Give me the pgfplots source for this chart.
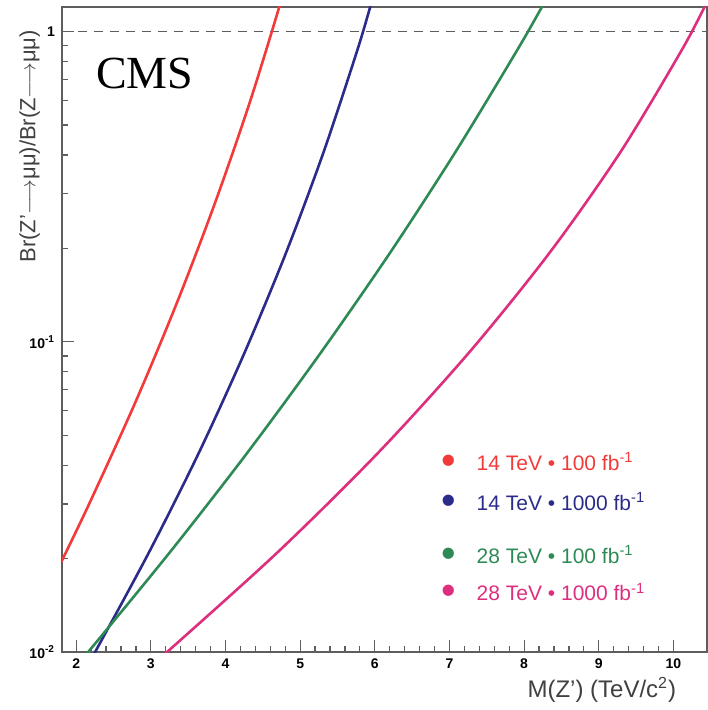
\documentclass[border=0pt]{standalone}
\usepackage{fontspec}
\setmainfont{Liberation Sans}
\newfontfamily\timesfont{Liberation Serif}
\usepackage{pgfplots}
\pgfplotsset{compat=1.18}
\definecolor{cred}{HTML}{F23A3A}
\definecolor{cblue}{HTML}{2B2B8A}
\definecolor{cgreen}{HTML}{2E8A55}
\definecolor{cmag}{HTML}{DE2F7E}
\definecolor{axgray}{HTML}{5E5E5E}
\tikzset{legtext/.style={anchor=west, font=\fontsize{10.5}{12}\selectfont},
         legdot/.style={font=\huge}}

\begin{document}
\begin{tikzpicture}
\begin{axis}[
  scale only axis,
  width=322.5pt, height=322.5pt,
  ymode=log,
  xmin=1.81, xmax=10.45,
  ymin=0.01, ymax=1.2,
  xtick={2,...,10},
  minor x tick num=4,
  xtick pos=bottom, ytick pos=left,
  ytick={0.01,0.1,1},
  yticklabels={\textbf{10}\textsuperscript{\textbf{-2}},\textbf{10}\textsuperscript{\textbf{-1}},\textbf{1}},
  xticklabel={\textbf{\pgfmathprintnumber{\tick}}},
  /pgf/number format/assume math mode=true,
  tick label style={font=\fontsize{7}{8}\selectfont},
  axis line style={axgray, line width=0.8pt},
  tick style={axgray, line width=0.6pt},
  major tick length=6pt,
  minor tick length=3pt,
  xlabel={M(Z') (TeV/c\textsuperscript{2})},
  xlabel style={font=\fontsize{12}{14}\selectfont, text=black!75, at={(axis description cs:0.963,-0.029)}, anchor=north east},
  ylabel={Br(Z'$\longrightarrow$μμ)/Br(Z$\longrightarrow$μμ)},
  ylabel style={font=\fontsize{11}{13}\selectfont, text=black!75, at={(axis description cs:-0.05,0.784)}, anchor=center},
  every axis plot/.append style={line width=1.3pt, smooth, no markers},
]
\addplot[axgray, line width=0.8pt, dash pattern=on 4.5pt off 3.5pt, sharp plot] coordinates {(1.81,1) (10.45,1)};

% 14 TeV, 100 fb^-1
\addplot[cred] coordinates {
(1.75,0.0185) (1.813,0.0198) (2.187,0.0305) (2.795,0.064) (3.355,0.1346)
(3.866,0.283) (4.328,0.594) (4.722,1.204) (4.932,1.81)};

% 14 TeV, 1000 fb^-1
\addplot[cblue] coordinates {
(2.103,0.00862) (2.254,0.01) (2.979,0.02104) (3.649,0.04416) (4.261,0.0929)
(4.816,0.195) (5.316,0.410) (5.760,0.862) (5.940,1.204) (6.073,1.561)};

% 28 TeV, 100 fb^-1
\addplot[cgreen] coordinates {
(1.934,0.00862) (2.161,0.01) (3.26,0.02104) (4.301,0.04416) (5.286,0.0929)
(6.213,0.195) (7.083,0.410) (7.896,0.862) (8.242,1.204) (8.505,1.561)};

% 28 TeV, 1000 fb^-1
\addplot[cmag] coordinates {
(2.905,0.00862) (3.218,0.01) (4.705,0.02104) (6.056,0.04416) (7.272,0.0929)
(8.351,0.195) (9.294,0.410) (10.10,0.862) (10.42,1.204) (10.65,1.561)};

\node[anchor=base west, font=\timesfont\fontsize{23}{23}\selectfont] at (rel axis cs:0.042,0.874) {CMS};

\node[legdot, text=cred] at (rel axis cs:0.600,0.290) {\textbullet};
\node[legtext, text=cred] at (rel axis cs:0.632,0.295) {14 TeV • 100 fb\textsuperscript{-1}};
\node[legdot, text=cblue] at (rel axis cs:0.600,0.228) {\textbullet};
\node[legtext, text=cblue] at (rel axis cs:0.632,0.233) {14 TeV • 1000 fb\textsuperscript{-1}};
\node[legdot, text=cgreen] at (rel axis cs:0.600,0.146) {\textbullet};
\node[legtext, text=cgreen] at (rel axis cs:0.632,0.151) {28 TeV • 100 fb\textsuperscript{-1}};
\node[legdot, text=cmag] at (rel axis cs:0.600,0.088) {\textbullet};
\node[legtext, text=cmag] at (rel axis cs:0.632,0.093) {28 TeV • 1000 fb\textsuperscript{-1}};
\end{axis}
\path (current axis.south west) ++(-31pt,-29pt) coordinate (bbA);
\path (current axis.north east) ++(0.5pt,3.5pt) coordinate (bbB);
\path[use as bounding box] (bbA) rectangle (bbB);
\end{tikzpicture}
\end{document}
